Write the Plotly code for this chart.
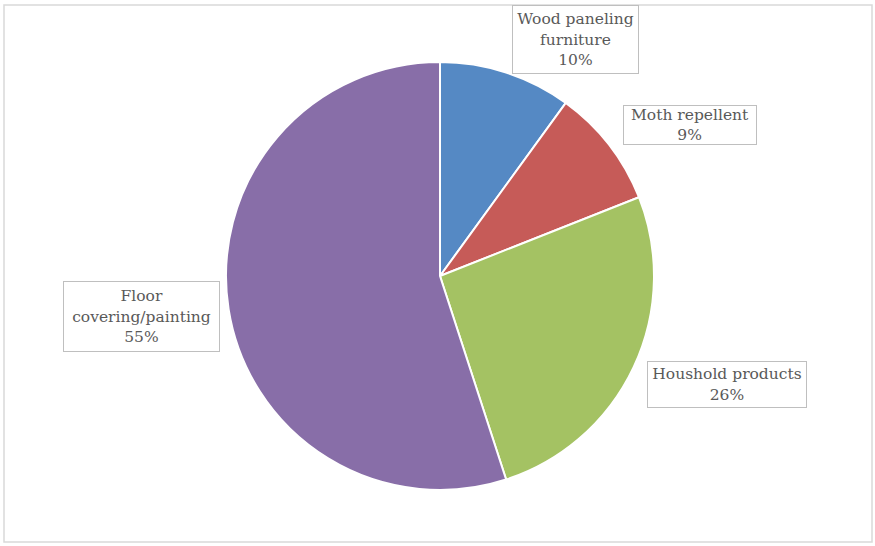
import plotly.graph_objects as go

categories = ["Wood paneling furniture", "Moth repellent", "Houshold products", "Floor covering/painting"]
label_text = ["Wood paneling<br>furniture<br>10%", "Moth repellent<br>9%", "Houshold products<br>26%", "Floor<br>covering/painting<br>55%"]
values = [10, 9, 26, 55]
colors = ["#5589C4", "#C65B58", "#A4C263", "#886EA8"]

W, H = 875, 546
cx, cy, r = 440, 276, 214

fig = go.Figure(go.Pie(
    labels=categories, values=values, sort=False, direction="clockwise", rotation=0,
    marker=dict(colors=colors, line=dict(color="white", width=2)),
    textinfo="none", hoverinfo="label+percent", showlegend=False,
    domain=dict(x=[(cx - r) / W, (cx + r) / W], y=[(H - cy - r) / H, (H - cy + r) / H]),
))

# label boxes: (center x px, center y px, width px, height px)
boxes = [(575, 40, 127, 69), (690, 125, 134, 40), (727, 384, 160, 47), (141, 316, 157, 71)]
for txt, (bx, by, bw, bh) in zip(label_text, boxes):
    fig.add_annotation(
        x=bx / W, y=1 - by / H, xref="paper", yref="paper", text=txt, showarrow=False,
        xanchor="center", yanchor="middle",
        font=dict(family="DejaVu Serif", size=15.5, color="#595959"),
        bordercolor="#BFBFBF", borderwidth=1, borderpad=0, bgcolor="white",
        width=bw - 2, height=bh - 2, align="center", valign="middle",
    )

fig.add_shape(type="rect", xref="paper", yref="paper",
              x0=4 / W, x1=872 / W, y0=1 - 542 / H, y1=1 - 5 / H,
              line=dict(color="#D9D9D9", width=1.5), layer="below")

fig.update_layout(width=W, height=H, margin=dict(l=0, r=0, t=0, b=0),
                  paper_bgcolor="white", plot_bgcolor="white")
fig.write_html("out.html")
